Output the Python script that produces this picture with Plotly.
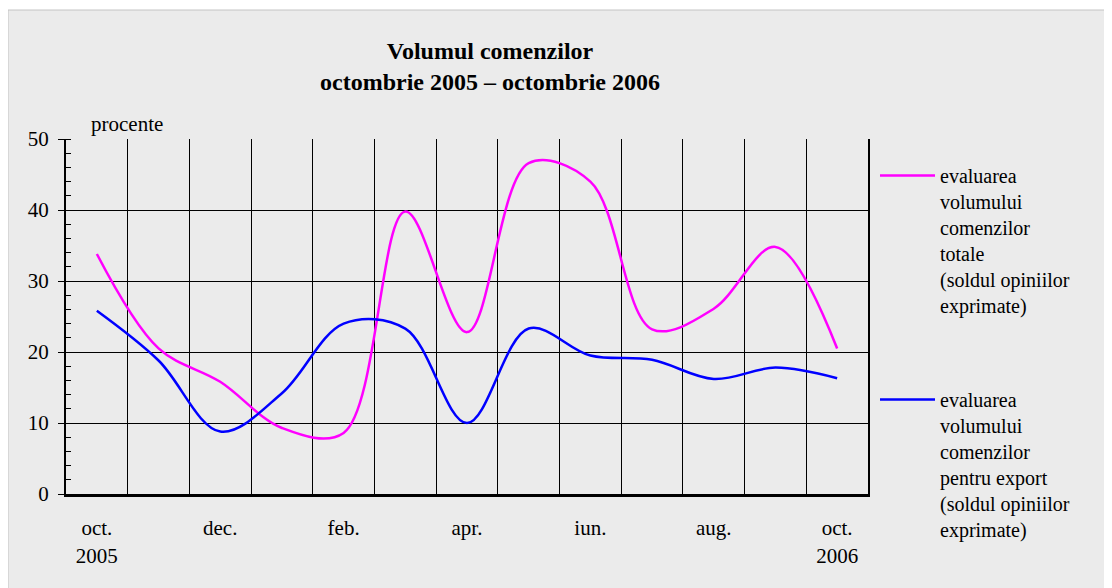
import plotly.graph_objects as go

months = ["oct.", "nov.", "dec.", "ian.", "feb.", "mar.", "apr.", "mai", "iun.", "iul.", "aug.", "sep.", "oct."]
tick_labels = ["oct.<br>2005", "dec.", "feb.", "apr.", "iun.", "aug.", "oct.<br>2006"]
total_orders = [33.8, 20.5, 15.8, 9.3, 8.6, 39.8, 22.8, 46.6, 44.0, 23.2, 26.1, 34.8, 20.5]
export_orders = [25.8, 18.8, 8.8, 14.2, 24.0, 23.3, 10.0, 23.3, 19.5, 18.9, 16.2, 17.8, 16.3]
name_total = "evaluarea<br>volumului<br>comenzilor<br>totale<br>(soldul opiniilor<br>exprimate)"
name_export = "evaluarea<br>volumului<br>comenzilor<br>pentru export<br>(soldul opiniilor<br>exprimate)"

FONT = "Liberation Serif"
OFF = 8  # default body margin of the html page
W, H = 1112 - OFF, 588 - OFF
# plot area in page pixels: x 66..868, y 139..494
L, R, T, B = 66 - OFF, 1112 - 868, 139 - OFF, 588 - 494
pw, ph = W - L - R, H - T - B


def px2x(p):  # page pixel -> paper x
    return (p - OFF - L) / pw


def px2y(p):  # page pixel -> paper y
    return (H - B - (p - OFF)) / ph


x = list(range(len(months)))

fig = go.Figure()
fig.add_trace(go.Scatter(x=x, y=total_orders, mode="lines", name=name_total,
                         line=dict(color="#ff00ff", width=2.5, shape="spline", smoothing=1.0),
                         legend="legend"))
fig.add_trace(go.Scatter(x=x, y=export_orders, mode="lines", name=name_export,
                         line=dict(color="#0000ff", width=2.5, shape="spline", smoothing=1.0),
                         legend="legend2"))

fig.update_layout(
    width=W, height=H,
    margin=dict(l=L, r=R, t=T, b=B, pad=0),
    paper_bgcolor="white",
    plot_bgcolor="white",
    font=dict(family=FONT, size=20, color="black"),
    title=dict(text="<b>Volumul comenzilor<br>octombrie 2005 – octombrie 2006</b>",
               xref="container", yref="container", x=(490 - OFF) / W, xanchor="center",
               y=1 - (59 - OFF) / H, yanchor="top", font=dict(family=FONT, size=24, color="black")),
    xaxis=dict(range=[-0.5, len(months) - 0.5], tickmode="array",
               tickvals=x[::2], ticktext=tick_labels, tickfont=dict(size=21),
               showgrid=False, zeroline=False, showline=True, linecolor="black", linewidth=3,
               ticks="", ticklabelstandoff=13,
               minor=dict(tickmode="linear", tick0=-0.5, dtick=1, showgrid=True,
                          gridcolor="black", gridwidth=1, ticks="")),
    yaxis=dict(range=[0, 50], dtick=10, showgrid=True, gridcolor="black", gridwidth=1,
               zeroline=False, showline=True, linecolor="black", linewidth=2, mirror=True,
               ticks="outside", ticklen=6, tickcolor="black", tickwidth=1,
               tickfont=dict(size=21), ticklabelstandoff=5,
               minor=dict(dtick=2, ticks="inside", ticklen=5, tickcolor="black", tickwidth=1,
                          showgrid=False)),
    legend=dict(x=px2x(875), y=px2y(156), xanchor="left", yanchor="top",
                bgcolor="rgba(0,0,0,0)", valign="top", font=dict(family=FONT, size=20),
                itemwidth=55),
    legend2=dict(x=px2x(875), y=px2y(380), xanchor="left", yanchor="top",
                 bgcolor="rgba(0,0,0,0)", valign="top", font=dict(family=FONT, size=20),
                 itemwidth=55),
    showlegend=True,
)

fig.add_shape(type="rect", xref="paper", yref="paper",
              x0=px2x(8), x1=px2x(1112 + 5), y0=px2y(588 + 5), y1=px2y(10),
              fillcolor="#ebebeb", line=dict(color="#c4c4c4", width=1), layer="below")

fig.add_annotation(text="procente", xref="paper", yref="paper", x=px2x(127), y=px2y(124),
                   xanchor="center", yanchor="middle", showarrow=False,
                   font=dict(family=FONT, size=21, color="black"))

fig.write_html("out.html")
